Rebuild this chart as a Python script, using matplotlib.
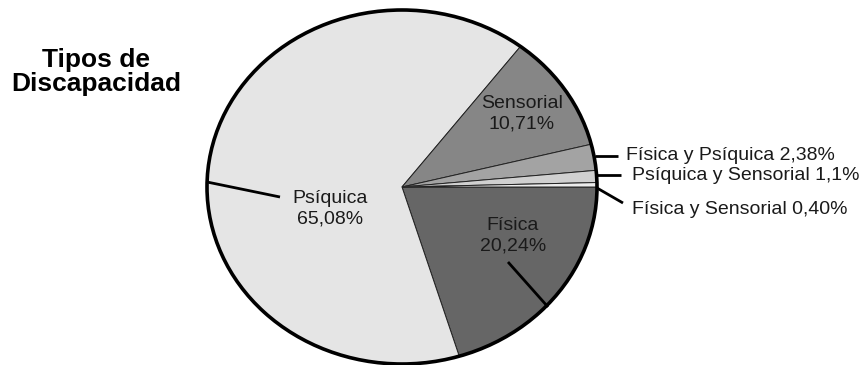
import matplotlib
matplotlib.use('Agg')
import matplotlib.pyplot as plt
from matplotlib.patches import Ellipse

plt.rcParams['font.family'] = ['Liberation Sans', 'DejaVu Sans']

# data
categories = ['Física', 'Psíquica', 'Sensorial', 'Física y Psíquica',
              'Psíquica y Sensorial', 'Física y Sensorial']
values = [20.24, 65.08, 10.71, 2.38, 1.1, 0.40]
value_labels = ['20,24%', '65,08%', '10,71%', '2,38%', '1,1%', '0,40%']
colors = ['#666666', '#e5e5e5', '#868686', '#a3a3a3', '#d0d0d0', '#ececec']

W, H = 867, 365
CX, CY, RX, RY = 402, 187, 195, 177

fig = plt.figure(figsize=(W / 100, H / 100), dpi=100)
ax = fig.add_axes([(CX - RX) / W, (H - CY - RY) / H, 2 * RX / W, 2 * RY / H])

wedges, _ = ax.pie(values, colors=colors, startangle=0, counterclock=False,
                   radius=1, wedgeprops=dict(edgecolor='#222222', linewidth=0.7))
ax.set_aspect('auto')
ax.set_xlim(-1, 1)
ax.set_ylim(-1, 1)
ax.add_patch(Ellipse((0, 0), 2, 2, fill=False, edgecolor='black', linewidth=2.6,
                     clip_on=False, zorder=5))


def px(x, y):
    """pixel position in the picture -> pie data coords"""
    return ((x - CX) / RX, (CY - y) / RY)


fs = 14
txt_color = '#1a1a1a'
# labels inside the pie
ax.text(*px(522, 114), f'{categories[2]}\n{value_labels[2]}', ha='center', va='center',
        fontsize=fs, color=txt_color, linespacing=1.3)
ax.text(*px(330, 209), f'{categories[1]}\n{value_labels[1]}', ha='center', va='center',
        fontsize=fs, color=txt_color, linespacing=1.3)
ax.text(*px(513, 236), f'{categories[0]}\n{value_labels[0]}', ha='center', va='center',
        fontsize=fs, color=txt_color, linespacing=1.3)

# leader lines
leaders = [((207, 182), (280, 197)), ((508, 262), (548, 307)),
           ((595, 156), (618, 156)), ((597, 175), (621, 175)), ((597, 188), (623, 203))]
for (x0, y0), (x1, y1) in leaders:
    a, b = px(x0, y0), px(x1, y1)
    ax.plot([a[0], b[0]], [a[1], b[1]], color='black', linewidth=2, clip_on=False,
            solid_capstyle='butt', zorder=6)

# outside labels for the small slices
ax.text(*px(626, 155), f'{categories[3]} {value_labels[3]}', ha='left', va='center',
        fontsize=fs, color=txt_color)
ax.text(*px(632, 176), f'{categories[4]} {value_labels[4]}', ha='left', va='center',
        fontsize=fs, color=txt_color)
ax.text(*px(632, 210), f'{categories[5]} {value_labels[5]}', ha='left', va='center',
        fontsize=fs, color=txt_color)

fig.text(96 / W, 1 - 72 / H, 'Tipos de\nDiscapacidad', ha='center', va='center',
         fontsize=19, fontweight='bold', linespacing=1.05)

plt.savefig('out.png', dpi=100)
